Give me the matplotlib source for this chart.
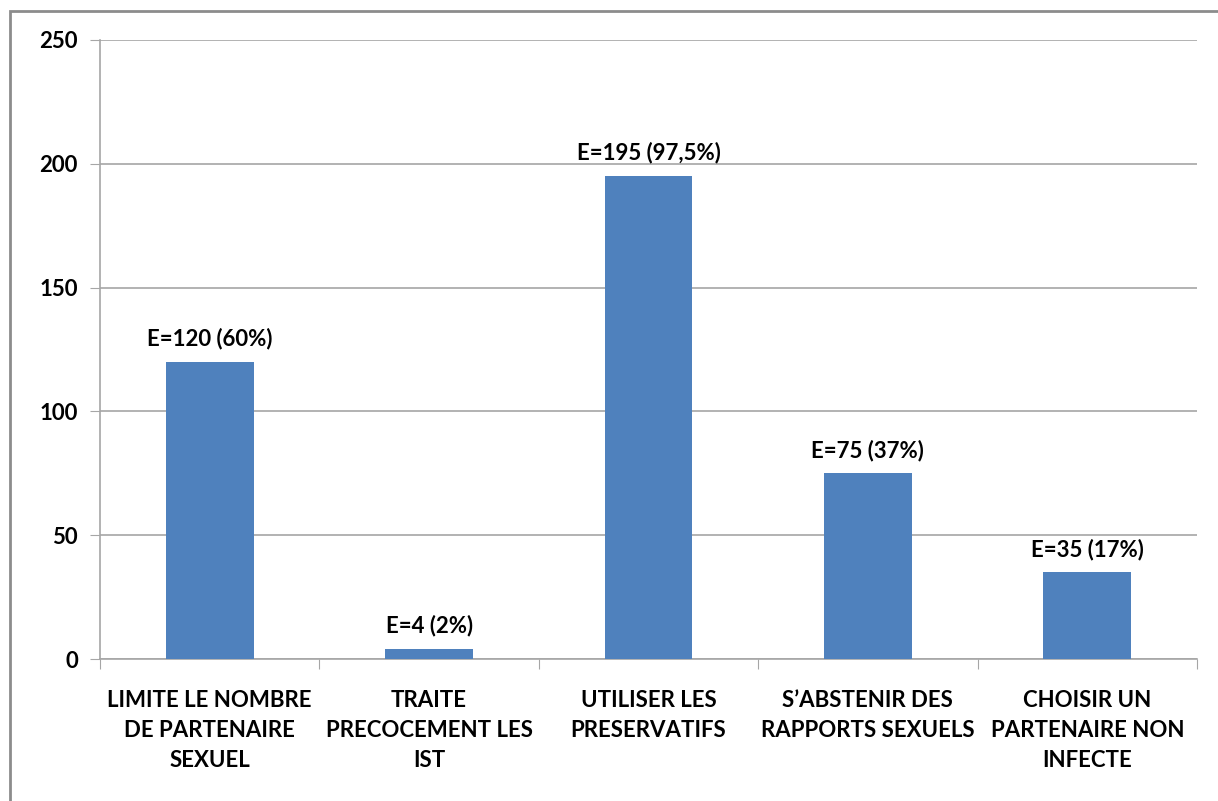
import matplotlib
matplotlib.use('Agg')
import matplotlib.pyplot as plt
from matplotlib.patches import Rectangle

categories = ['LIMITE LE NOMBRE\nDE PARTENAIRE\nSEXUEL', 'TRAITE\nPRECOCEMENT LES\nIST',
              'UTILISER LES\nPRESERVATIFS', 'S\u2019ABSTENIR DES\nRAPPORTS SEXUELS',
              'CHOISIR UN\nPARTENAIRE NON\nINFECTE']
values = [120, 4, 195, 75, 35]
bar_labels = ['E=120 (60%)', 'E=4 (2%)', 'E=195 (97,5%)', 'E=75 (37%)', 'E=35 (17%)']
yticks = [0, 50, 100, 150, 200, 250]

plt.rcParams['font.family'] = ['Lato', 'DejaVu Sans']
plt.rcParams['font.weight'] = 'bold'

fig = plt.figure(figsize=(12.18, 8.01), dpi=100)
ax = fig.add_axes([100 / 1218, 1 - 659 / 801, 1097 / 1218, 619 / 801])

x = range(len(values))
ax.bar(x, values, width=0.4, color='#4f81bd', zorder=3)
for i, (v, lab) in enumerate(zip(values, bar_labels)):
    ax.text(i, v + 5, lab, ha='center', va='bottom', fontsize=16, fontweight='bold')

ax.set_xlim(-0.5, len(values) - 0.5)
ax.set_ylim(0, 250)
ax.set_yticks(yticks)
ax.set_yticklabels([str(t) for t in yticks], fontsize=16, fontweight='bold')
ax.yaxis.grid(True, color='#a6a6a6', linewidth=1.2, zorder=0)

# category boundary ticks
ax.set_xticks([i - 0.5 for i in range(len(values) + 1)])
ax.set_xticklabels([])
ax.set_xticks(list(x), minor=True)
ax.set_xticklabels(categories, minor=True, fontsize=16, fontweight='bold', linespacing=1.55)
ax.tick_params(axis='x', which='minor', length=0, pad=22)
ax.tick_params(axis='x', which='major', length=7, color='#a6a6a6', direction='out')
ax.tick_params(axis='y', length=7, color='#a6a6a6', pad=9)

for s in ['top', 'right']:
    ax.spines[s].set_visible(False)
for s in ['left', 'bottom']:
    ax.spines[s].set_color('#a6a6a6')
    ax.spines[s].set_linewidth(1.2)

# outer chart border (only left and top visible in the crop)
fig.add_artist(Rectangle((10 / 1218, -0.05), 1.1, 1 - 11 / 801 + 0.05, transform=fig.transFigure,
                         fill=False, edgecolor='#8c8c8c', linewidth=2))

fig.savefig('out.png', dpi=100)
